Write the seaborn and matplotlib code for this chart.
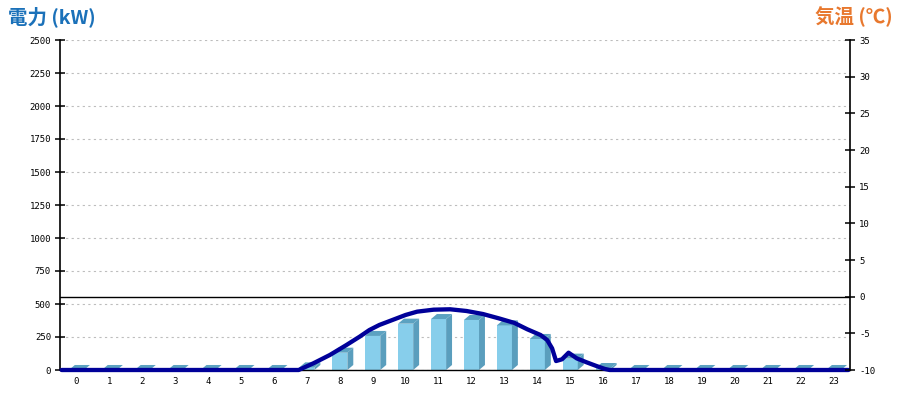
import matplotlib
matplotlib.use("Agg")
import matplotlib.pyplot as plt
from matplotlib.patches import Polygon
import pandas as pd
import seaborn as sns

# ---- data ----
hours = list(range(24))
power_kw = [0, 0, 0, 0, 0, 0, 0, 20, 131, 258, 351, 386, 379, 338, 235, 86, 15,
            0, 0, 0, 0, 0, 0, 0]
line_hours = [-0.45, 6.75, 7.2, 7.7, 8.2, 8.6, 8.9, 9.2, 9.6, 10.0, 10.35, 10.85,
              11.35, 11.85, 12.35, 12.85, 13.3, 13.7, 14.1, 14.3, 14.45, 14.57,
              14.75, 14.95, 15.2, 15.5, 15.8, 16.05, 16.2, 23.45]
line_kw = [0, 0, 51, 114, 189, 252, 303, 341, 379, 417, 442, 457, 460, 447, 424,
           390, 357, 308, 265, 227, 164, 68, 81, 131, 88, 58, 30, 8, 0, 0]
left_ticks = [0, 250, 500, 750, 1000, 1250, 1500, 1750, 2000, 2250, 2500]
right_ticks = [-10, -5, 0, 5, 10, 15, 20, 25, 30, 35]
left_title = "電力 (kW)"
right_title = "気温 (℃)"

# ---- style ----
sns.set_style("white")
plt.rcParams['font.family'] = ['DejaVu Sans Mono']
plt.rcParams['axes.unicode_minus'] = False

fig = plt.figure(figsize=(9, 4), dpi=100)
ax = fig.add_axes([60 / 900, 30 / 400, 790 / 900, 330 / 400])

df = pd.DataFrame({'hour': hours, 'kw': power_kw})
sns.barplot(data=df, x='hour', y='kw', native_scale=True, width=0.46,
            color='#87CEEB', saturation=1, edgecolor='none', linewidth=0,
            ax=ax, zorder=2)

# 3D depth faces derived from the seaborn bar patches
dx, dy = 0.18, 38
side_col, top_col = '#5A9EBD', '#5CA2C1'
for p in list(ax.patches):
    x0, w, h = p.get_x(), p.get_width(), p.get_height()
    side = Polygon([(x0 + w, 0), (x0 + w + dx, dy), (x0 + w + dx, h + dy), (x0 + w, h)],
                   closed=True, facecolor=side_col, edgecolor='none', zorder=2)
    top = Polygon([(x0, h), (x0 + w, h), (x0 + w + dx, h + dy), (x0 + dx, h + dy)],
                  closed=True, facecolor=top_col, edgecolor='none', zorder=2)
    ax.add_patch(side)
    ax.add_patch(top)

sns.lineplot(x=line_hours, y=line_kw, ax=ax, color='#000099', lw=3.1,
             zorder=4, clip_on=False)

ax.set_xlim(-0.5, 23.5)
ax.set_ylim(0, 2500)
ax.set_yticks(left_ticks)
ax.set_xticks(hours)
ax.set_xticklabels([str(h) for h in hours])
ax.set_xlabel('')
ax.set_ylabel('')
ax.set_axisbelow(True)
ax.yaxis.grid(True, color='#bdbdbd', linestyle=(0, (2, 3)), lw=0.8)
ax.xaxis.grid(False)
ax.tick_params(axis='y', direction='inout', length=7, width=1.1, pad=3,
               labelsize=6.5, colors='black', left=True)
ax.tick_params(axis='x', length=0, pad=5, labelsize=6.5, colors='black')
ax.spines['top'].set_visible(False)
ax.spines['right'].set_visible(False)
for s in ['left', 'bottom']:
    ax.spines[s].set_color('black')
ax.spines['left'].set_linewidth(1.2)
ax.spines['bottom'].set_linewidth(1.0)

ax2 = ax.twinx()
ax2.set_ylim(-10, 35)
ax2.set_yticks(right_ticks)
ax2.axhline(0, color='black', lw=1.0, zorder=1)
ax2.tick_params(axis='y', direction='inout', length=7, width=1.1, pad=3,
                labelsize=6.5, colors='black', right=True)
for s in ['top', 'left', 'bottom']:
    ax2.spines[s].set_visible(False)
ax2.spines['right'].set_color('black')
ax2.spines['right'].set_linewidth(1.2)
ax2.grid(False)

fig.text(8 / 900, 1 - 17 / 400, left_title, ha='left', va='center', fontsize=14,
         fontweight='bold', color='#1B71B9',
         family=['Noto Sans CJK JP', 'DejaVu Sans'])
fig.text(893 / 900, 1 - 17 / 400, right_title, ha='right', va='center', fontsize=14,
         fontweight='bold', color='#E8782E',
         family=['Noto Sans CJK JP', 'DejaVu Sans'])

fig.savefig('out.png', dpi=100)
